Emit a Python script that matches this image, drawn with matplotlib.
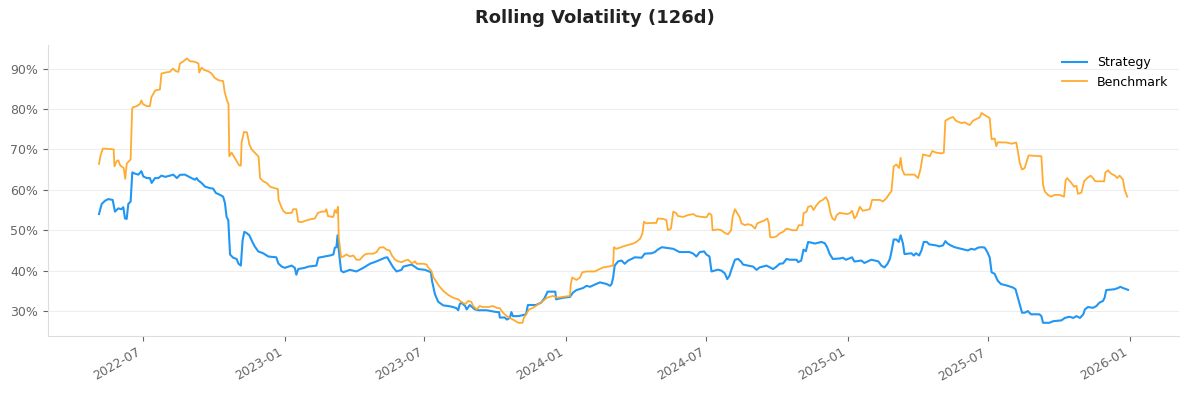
import pandas as pd
import matplotlib
matplotlib.use("Agg")
import matplotlib.pyplot as plt
import matplotlib.dates as mdates
from matplotlib.ticker import PercentFormatter

# days since the first date of the window, and rolling vol in percent
start = "2022-05-05"

strat_days = [0, 3.5, 7.8, 12, 17.7, 20.7, 25, 29, 31.5, 33.7, 35.9, 38, 41, 43.2, 46.7, 51, 55, 57.5, 62, 66,
              68.3, 72.6, 77, 81, 86, 92, 96.4, 101, 105, 111.5, 116, 120, 124.5, 126.7, 128.8, 133, 137.5, 144,
              148, 151.7, 157, 161, 163.4, 165.5, 167.7, 170, 174, 178.5, 181, 184, 186.3, 188.5, 191.5, 195, 199,
              202, 206.6, 213, 219.6, 230, 232.6, 237, 241, 250, 254, 256, 258.5, 267, 271.5, 282, 284.5, 293,
              299.6, 304, 306, 308, 309.5, 311, 314, 317, 325.5, 334, 343, 351.5, 360, 371, 374, 377, 381.7, 386,
              392.5, 394.7, 405.5, 414, 423, 430.6, 432, 435.8, 440, 446.6, 453, 459.5, 463.8, 466, 468, 470, 475,
              477, 481, 487.7, 492, 502.8, 516, 519, 520, 526.5, 529, 533, 535, 537, 544, 550, 554, 556.4, 567,
              573.6, 578, 582, 592, 593, 602, 611, 615, 619.5, 628, 632.5, 637, 645, 650, 658.5, 663, 665, 667,
              669, 673.5, 678, 682, 686.5, 691, 695, 704, 708, 717, 721, 725, 730, 734, 745, 749, 753, 766, 771,
              775, 779.4, 785, 788, 792, 794.6, 803, 807.5, 812, 815, 818, 820, 825, 829, 832.6, 835.6, 848.6,
              853, 857, 866, 874.5, 879, 883, 887.5, 892, 896, 900, 905, 907, 911, 914, 917, 920, 929, 937,
              941.5, 944.6, 948, 952, 961, 965, 969, 977, 980, 989, 993, 1002, 1011, 1015, 1019, 1023, 1026,
              1028, 1031, 1034.5, 1037.5, 1040, 1043, 1045, 1054, 1057, 1060, 1064, 1067, 1070, 1074, 1077,
              1086, 1090, 1095, 1098, 1101, 1105, 1110, 1118.6, 1123, 1127, 1131.6, 1136, 1140.4, 1145, 1149,
              1152.5, 1155.5, 1158, 1162, 1164, 1166, 1170, 1179, 1186, 1189, 1191.4, 1194.5, 1197.5, 1201, 1205,
              1209, 1220, 1222.6, 1224.7, 1233, 1238, 1248.6, 1253, 1259, 1264, 1268, 1272.6, 1277, 1279, 1283,
              1289.5, 1294, 1298, 1302.5, 1304.6, 1306.7, 1317.5, 1322, 1325, 1328.5, 1335]
strat_vol = [54.0, 56.5, 57.3, 57.7, 57.5, 54.6, 55.4, 55.2, 55.7, 52.9, 52.8, 56.5, 57.1, 64.3, 64.0, 63.75, 64.6,
             63.3, 62.9, 62.9, 61.7, 62.9, 62.9, 63.5, 63.2, 63.5, 63.75, 62.9, 63.7, 63.75, 63.3, 62.9, 62.5,
             62.9, 62.3, 61.7, 60.8, 60.4, 60.3, 59.2, 58.75, 58.3, 56.7, 53.3, 52.5, 44.0, 43.2, 42.9, 41.7,
             41.25, 47.5, 49.6, 49.3, 48.75, 47.1, 46.0, 44.75, 44.3, 43.5, 43.3, 41.8, 41.0, 40.7, 41.25, 40.7,
             39.0, 40.4, 40.7, 41.0, 41.25, 43.2, 43.5, 43.75, 44.0, 45.7, 45.8, 48.75, 45.2, 40.0, 39.6, 40.2,
             39.8, 40.7, 41.7, 42.3, 43.2, 43.3, 42.3, 40.8, 39.8, 40.2, 41.0, 41.5, 40.4, 40.2, 39.6, 37.5, 34.2,
             32.3, 31.4, 31.25, 31.0, 30.7, 30.2, 31.7, 32.1, 31.25, 30.4, 31.5, 30.4, 30.2, 30.2, 29.75, 29.75,
             28.4, 28.4, 27.9, 28.3, 29.75, 28.75, 28.75, 29.0, 29.2, 31.5, 31.5, 32.1, 33.2, 34.8, 34.8, 32.9,
             33.3, 33.5, 34.6, 35.2, 35.7, 36.25, 36.0, 36.7, 37.1, 36.7, 36.25, 36.7, 38.3, 41.25, 42.3, 42.5,
             41.7, 42.5, 42.9, 43.3, 43.2, 44.2, 44.3, 44.6, 45.2, 45.8, 45.7, 45.4, 45.0, 44.6, 44.6, 44.2,
             43.5, 44.6, 44.75, 44.0, 43.5, 39.8, 40.25, 40.0, 39.3, 37.9, 38.75, 40.0, 42.7, 42.9, 42.3, 41.5,
             41.0, 40.2, 40.8, 41.25, 40.4, 41.0, 41.7, 41.8, 42.9, 42.7, 42.7, 42.7, 42.1, 42.5, 45.2, 44.8,
             47.1, 46.7, 47.1, 46.8, 45.8, 44.1, 42.9, 43.0, 43.2, 42.7, 43.3, 42.25, 42.5, 41.9, 42.7, 42.3,
             41.25, 40.8, 41.7, 42.9, 44.6, 47.7, 47.7, 47.1, 48.75, 46.7, 44.1, 44.3, 43.75, 44.3, 43.75, 45.0,
             47.1, 47.1, 46.5, 46.25, 46.0, 46.25, 47.3, 46.7, 46.25, 45.8, 45.4, 45.2, 45.0, 45.4, 45.2, 45.7,
             45.8, 45.7, 44.6, 43.3, 39.6, 39.2, 38.3, 37.5, 36.7, 36.25, 35.8, 35.4, 33.75, 31.7, 29.6, 29.6,
             30.0, 29.2, 29.2, 28.75, 27.1, 27.1, 27.5, 27.7, 28.3, 28.6, 28.3, 28.75, 28.3, 29.2, 30.4, 31.0,
             30.8, 31.25, 32.1, 32.5, 33.3, 35.2, 35.4, 35.7, 36.0, 35.7, 35.25]

bench_days = [0, 2, 5, 19, 20, 23, 25, 27, 29, 32, 34, 36, 39, 41, 43, 44, 49, 53, 55, 57, 62, 66, 68, 73, 79, 81,
              86, 92, 96, 100, 103, 105, 109, 114, 118, 124, 129, 130, 133, 137, 142, 146, 150, 155, 161, 163,
              166, 168, 169, 172, 176, 182, 184, 185, 188, 192, 195, 198, 202, 207, 209, 213, 217.5, 222, 228,
              232, 233, 236, 239, 243, 250, 252, 256, 258.5, 263, 267, 274, 280, 284, 289, 293, 295, 297, 302,
              304, 306, 308, 310, 311, 314, 317, 321, 325.5, 330, 334, 338.5, 341, 345, 349, 356, 360, 364, 369,
              373, 377, 380, 384, 388, 393, 397, 401, 406, 410, 412, 421, 425, 427, 431, 434, 438, 441, 446.6,
              453, 459.5, 466, 470, 475, 479, 483, 485.5, 490, 494, 498, 505, 511, 516, 520, 524, 529, 533, 537,
              544, 549.5, 551, 554, 558, 563, 570, 576, 581, 589, 594, 602, 611, 612, 614, 619.5, 624, 627, 632.5,
              643, 647.5, 654, 660.5, 667, 668, 671, 676, 680, 689, 693, 697, 702, 705, 707, 710, 717, 723, 725,
              732, 736, 738, 742, 745, 749, 751, 758, 764, 771, 775, 782, 788, 791.5, 794.6, 796, 803, 807.5,
              812, 816, 820, 822, 825, 828, 831, 833.5, 838, 842, 846.5, 851, 854, 859, 864, 867, 869, 870.7,
              874.5, 879, 883, 887.5, 892, 896, 900, 905, 908, 912.6, 914, 918, 920, 924, 927, 931, 935, 939,
              943, 946, 949, 951.5, 954.5, 957, 961, 970, 974, 977, 980, 982.6, 987, 991, 1000, 1003, 1013,
              1017, 1021.5, 1026, 1028, 1031, 1034.5, 1038, 1040, 1042, 1045, 1054, 1058, 1062.6, 1065.6, 1069,
              1078, 1081, 1086, 1093, 1096, 1098, 1104, 1108, 1111.5, 1119, 1123, 1129.6, 1134, 1138, 1142.6,
              1145, 1149, 1155.5, 1158, 1162, 1164, 1166, 1177, 1184, 1190, 1192, 1194.5, 1197.5, 1201, 1203,
              1206, 1222.6, 1224.7, 1227, 1231, 1235, 1240, 1246, 1252, 1254, 1256, 1261.5, 1265, 1268, 1270,
              1274.5, 1278, 1282, 1286.5, 1289.5, 1292.6, 1304, 1305.6, 1309, 1313, 1318, 1321, 1324, 1328.5,
              1330.6, 1334]
bench_vol = [66.4, 68.5, 70.2, 70.0, 65.8, 67.1, 67.3, 66.2, 65.8, 65.4, 62.7, 66.5, 67.1, 67.5, 80.0, 80.4, 80.7,
             81.2, 82.1, 81.2, 80.7, 80.7, 82.9, 84.6, 84.8, 88.75, 89.0, 89.2, 90.0, 89.3, 89.2, 91.25, 91.7,
             92.5, 91.8, 91.7, 91.25, 89.0, 90.2, 89.6, 89.3, 88.75, 87.7, 87.1, 86.9, 84.2, 82.1, 81.25, 68.3,
             69.2, 67.9, 66.0, 66.0, 71.7, 74.3, 74.2, 71.25, 70.0, 69.2, 68.2, 62.9, 62.1, 61.7, 60.75, 60.4,
             60.2, 57.5, 56.0, 54.75, 54.2, 54.3, 55.2, 55.2, 52.1, 52.0, 52.3, 52.7, 52.9, 54.3, 54.6, 54.6,
             55.2, 53.5, 53.3, 53.3, 55.0, 54.3, 55.8, 48.3, 43.3, 43.5, 44.0, 43.5, 43.75, 42.7, 42.7, 43.3,
             44.0, 44.2, 44.2, 44.6, 45.7, 45.8, 45.2, 45.0, 43.75, 42.7, 42.3, 42.1, 42.5, 42.7, 41.8, 42.3,
             41.7, 41.7, 41.5, 40.8, 40.0, 38.3, 37.1, 36.25, 35.0, 34.0, 33.3, 32.9, 32.3, 31.7, 32.5, 32.3,
             31.25, 30.4, 31.25, 31.0, 31.0, 31.25, 30.8, 30.7, 29.6, 28.75, 28.3, 27.9, 27.1, 27.1, 28.3, 29.2,
             30.4, 30.8, 31.7, 32.5, 33.3, 33.75, 33.3, 33.5, 33.75, 36.7, 38.3, 37.7, 38.3, 39.6, 39.8, 39.8,
             40.2, 40.8, 41.0, 41.25, 45.8, 45.4, 45.7, 46.0, 46.5, 46.7, 47.1, 47.9, 49.2, 52.1, 51.7, 51.8,
             51.8, 52.9, 52.8, 52.5, 50.0, 50.4, 54.6, 54.2, 53.5, 53.3, 53.75, 54.0, 53.5, 53.3, 53.2, 54.2,
             53.75, 50.0, 50.2, 50.0, 49.3, 49.0, 50.0, 53.3, 55.2, 54.2, 53.3, 51.7, 51.25, 51.5, 51.25, 50.4,
             51.7, 52.1, 52.5, 52.9, 51.7, 48.3, 48.2, 48.5, 49.2, 49.6, 50.4, 50.2, 50.0, 50.0, 51.25, 51.25,
             54.2, 54.6, 55.8, 56.0, 55.0, 56.25, 57.1, 57.5, 58.2, 57.1, 54.2, 52.9, 52.5, 53.75, 54.3, 54.0,
             54.2, 54.8, 52.9, 53.5, 55.8, 54.8, 55.2, 57.5, 57.5, 57.1, 57.9, 59.2, 59.6, 65.8, 66.25, 65.4,
             67.9, 65.0, 63.75, 63.75, 63.75, 62.9, 65.0, 68.75, 68.3, 69.6, 69.2, 69.0, 69.2, 77.1, 77.75, 78.0,
             77.1, 76.5, 76.7, 76.0, 77.1, 77.5, 77.9, 79.0, 78.5, 77.75, 72.5, 72.7, 70.8, 71.75, 71.7, 71.4,
             71.7, 69.6, 66.7, 65.0, 65.4, 66.7, 68.5, 68.3, 61.25, 59.6, 58.75, 58.3, 58.75, 58.75, 58.3, 62.3,
             62.9, 61.7, 60.75, 61.0, 59.0, 59.3, 62.1, 62.9, 63.5, 62.9, 62.1, 62.1, 64.3, 64.8, 64.0, 63.5,
             62.9, 63.5, 62.5, 60.0, 58.3]

t0 = pd.Timestamp(start)
strat_dates = t0 + pd.to_timedelta(strat_days, unit="D")
bench_dates = t0 + pd.to_timedelta(bench_days, unit="D")

fig, ax = plt.subplots(figsize=(11.89, 3.93), dpi=100)
fig.subplots_adjust(left=0.040, right=0.992, top=0.885, bottom=0.145)

ax.plot(strat_dates, strat_vol, color="#2196F3", lw=1.5, label="Strategy")
ax.plot(bench_dates, bench_vol, color="#FFA726", lw=1.3, alpha=0.95, label="Benchmark")

fig.suptitle("Rolling Volatility (126d)", x=0.5, y=0.953, va="center",
             fontsize=13, fontweight="bold", color="#222222")
ax.yaxis.set_major_formatter(PercentFormatter(100, decimals=0))
ax.xaxis.set_major_locator(mdates.MonthLocator(bymonth=[1, 7]))
ax.xaxis.set_major_formatter(mdates.DateFormatter("%Y-%m"))
for lbl in ax.get_xticklabels():
    lbl.set_rotation(30)
    lbl.set_ha("right")

ax.grid(axis="y", color="#eeeeee", lw=0.8)
ax.set_axisbelow(True)
for side in ["top", "right"]:
    ax.spines[side].set_visible(False)
for side in ["left", "bottom"]:
    ax.spines[side].set_color("#dddddd")
ax.tick_params(colors="#666666", labelsize=9)

ax.legend(loc="upper right", frameon=False, fontsize=9)

fig.savefig("out.png", dpi=100)
